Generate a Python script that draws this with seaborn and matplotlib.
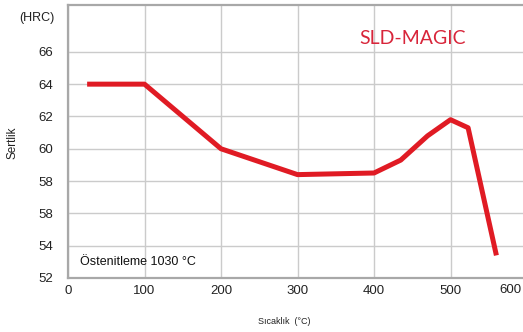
import matplotlib
matplotlib.use("Agg")
import matplotlib.pyplot as plt
import seaborn as sns
import pandas as pd

# Tempering curve: hardness vs. tempering temperature
temperature_c = [25, 100, 200, 300, 400, 435, 470, 500, 523, 560]
hardness_hrc = [64, 64, 60, 58.4, 58.5, 59.3, 60.8, 61.8, 61.3, 53.4]

y_ticks = [52, 54, 56, 58, 60, 62, 64, 66]
y_tick_labels = ["52", "54", "58", "58", "60", "62", "64", "66"]
x_ticks = [0, 100, 200, 300, 400, 500, 600]
x_tick_labels = ["0", "100", "200", "300", "400", "500", ""]
x_last_label = "600"

grade_name = "SLD-MAGIC"
austenitizing_note = "Östenitleme 1030 °C"
y_unit = "(HRC)"
y_title = "Sertlik"
x_title = "Sıcaklık  (°C)"

sns.set_style("white")
plt.rcParams["font.family"] = ["Liberation Sans", "DejaVu Sans"]

df = pd.DataFrame({"temp": temperature_c, "hrc": hardness_hrc})

fig = plt.figure(figsize=(5.23, 3.32), dpi=100)
ax = fig.add_axes([68 / 523, 54 / 332, (600 * 0.765) / 523, 273 / 332])

sns.lineplot(data=df, x="temp", y="hrc", ax=ax, color="#e01b24",
             linewidth=3.6, solid_joinstyle="round", solid_capstyle="butt",
             zorder=3)

ax.set_xlim(0, 600)
ax.set_ylim(52, 68.9)

ax.set_yticks(y_ticks)
ax.set_yticklabels(y_tick_labels)
ax.set_xticks(x_ticks)
ax.set_xticklabels(x_tick_labels)
ax.tick_params(axis="both", length=0, labelsize=9.5, labelcolor="#222222")
ax.tick_params(axis="y", pad=11)
ax.tick_params(axis="x", pad=5)

ax.grid(True, color="#cbcbcb", linewidth=1.0)
ax.set_axisbelow(True)

for side in ["left", "bottom", "top"]:
    ax.spines[side].set_visible(True)
    ax.spines[side].set_color("#a8a8a8")
    ax.spines[side].set_linewidth(1.6)
ax.spines["right"].set_visible(False)

ax.set_xlabel("")
ax.set_ylabel("")

# last x tick label sits at the figure edge, so it is right-aligned
fig.text(522 / 523, 1 - 290 / 332, x_last_label, ha="right", va="center",
         fontsize=9.5, color="#222222")

fig.text(55 / 523, 1 - 18 / 332, y_unit, ha="right", va="center",
         fontsize=9, color="#222222")
fig.text(12 / 523, 1 - 143 / 332, y_title, rotation=90, ha="center",
         va="center", fontsize=8.5, color="#222222")
fig.text(284 / 523, 1 - 322 / 332, x_title, ha="center", va="center",
         fontsize=6.5, color="#222222")

fig.text(413 / 523, 1 - 38 / 332, grade_name, ha="center", va="center",
         fontsize=14, color="#d8253a", family=["Lato", "DejaVu Sans"])
fig.text(80 / 523, 1 - 262 / 332, austenitizing_note, ha="left",
         va="center", fontsize=9, color="#111111")

fig.savefig("out.png", dpi=100)
